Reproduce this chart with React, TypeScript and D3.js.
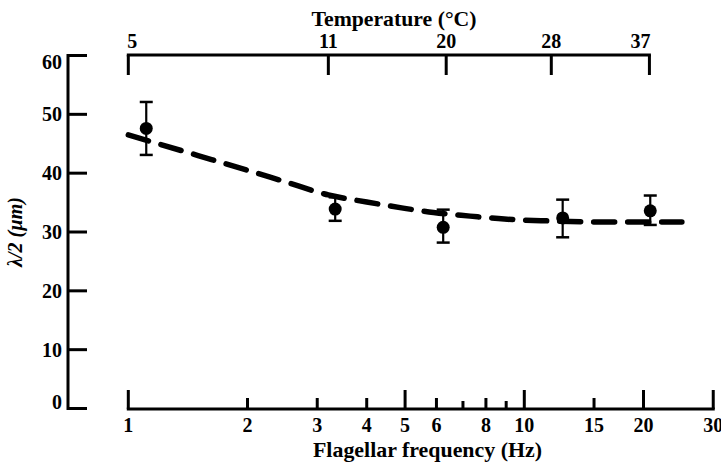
import React from "react";
import * as d3 from "d3";

const freqTicks = [1, 2, 3, 4, 5, 6, 7, 8, 9, 10, 15, 20, 30];
const freqTickLabels = ["1", "2", "3", "4", "5", "6", "", "8", "", "10", "15", "20", "30"];
const freqTickKind = ["L", "M", "M", "M", "L", "M", "S", "M", "S", "L", "M", "L", "L"];
const tempLabels = ["5", "11", "20", "28", "37"];
const tempAtFreq = [1.0, 3.2, 6.35, 11.7, 20.7];
const yTicks = [0, 10, 20, 30, 40, 50, 60];

const pointFreq = [1.11, 3.33, 6.24, 12.5, 20.8];
const pointMean = [47.6, 33.9, 30.8, 32.4, 33.6];
const pointUpper = [52.1, 35.9, 33.8, 35.5, 36.2];
const pointLower = [43.1, 31.9, 28.2, 29.1, 31.2];

const curveFreq = [1.0, 1.5, 2.0, 2.5, 3.2, 4.0, 4.9, 5.9, 7.3, 8.9, 11.3, 16, 25];
const curveVal = [46.5, 43.0, 40.5, 38.5, 36.3, 35.1, 34.1, 33.3, 32.7, 32.2, 31.9, 31.7, 31.7];

const FONT = "'Liberation Serif', 'Times New Roman', serif";

export default function App() {
  const x = d3.scaleLog().domain([1, 10]).range([128.3, 524.3]);
  const y = d3.scaleLinear().domain([0, 60]).range([408.5, 55.5]);
  const yAxisX = 68;
  const xAxisY = 409;
  const topAxisY = 55;

  const line = d3
    .line<number>()
    .x((d, i) => x(curveFreq[i]))
    .y((d) => y(d))
    .curve(d3.curveMonotoneX);

  const tickLen = (k: string) => (k === "L" ? 19 : k === "M" ? 11 : 8);

  return (
    <svg
      width={721}
      height={463}
      style={{ position: "absolute", left: 0, top: 0, background: "#fff" }}
      fontFamily={FONT}
      fontWeight="bold"
    >
      <rect width={721} height={463} fill="#fff" />
      {/* Top title */}
      <text x={394} y={26} fontSize={21} textAnchor="middle" textLength={165} lengthAdjust="spacingAndGlyphs">
        Temperature (°C)
      </text>
      {/* top axis */}
      <line x1={x(tempAtFreq[0])} x2={x(tempAtFreq[tempAtFreq.length - 1])} y1={topAxisY} y2={topAxisY} stroke="#000" strokeWidth={3} strokeLinecap="square" />
      {tempAtFreq.map((f, i) => (
        <g key={"t" + i}>
          <line x1={x(f)} x2={x(f)} y1={topAxisY} y2={topAxisY + 20} stroke="#000" strokeWidth={3} />
          <text
            x={i === 0 ? x(f) - 1 : i === tempAtFreq.length - 1 ? x(f) + 1 : x(f)}
            y={47.5}
            fontSize={20}
            textAnchor={i === 0 ? "start" : i === tempAtFreq.length - 1 ? "end" : "middle"}
          >
            {tempLabels[i]}
          </text>
        </g>
      ))}

      {/* Y axis */}
      <line x1={yAxisX} x2={yAxisX} y1={y(60)} y2={y(0)} stroke="#000" strokeWidth={3} strokeLinecap="square" />
      {yTicks.map((v, i) => (
        <g key={"y" + i}>
          <line x1={yAxisX} x2={yAxisX + 19} y1={y(v)} y2={y(v)} stroke="#000" strokeWidth={3} />
          <text
            x={62}
            y={y(v) + (v === 60 ? 13 : v === 0 ? 0 : 7)}
            fontSize={20}
            textAnchor="end"
          >
            {v}
          </text>
        </g>
      ))}
      <text
        transform={`translate(22,232) rotate(-90)`}
        fontSize={20}
        textAnchor="middle"
        fontStyle="italic"
      >
        λ/2 (µm)
      </text>

      {/* bottom axis */}
      <line x1={x(1)} x2={x(30)} y1={xAxisY} y2={xAxisY} stroke="#000" strokeWidth={3} strokeLinecap="square" />
      {freqTicks.map((f, i) => (
        <g key={"f" + i}>
          <line x1={x(f)} x2={x(f)} y1={xAxisY} y2={xAxisY - tickLen(freqTickKind[i])} stroke="#000" strokeWidth={3} />
          {freqTickLabels[i] && (
            <text x={x(f)} y={432} fontSize={20} textAnchor="middle">
              {freqTickLabels[i]}
            </text>
          )}
        </g>
      ))}
      <text x={427.5} y={457} fontSize={22} textAnchor="middle" textLength={229} lengthAdjust="spacingAndGlyphs">
        Flagellar frequency (Hz)
      </text>

      {/* dashed fit */}
      <path
        d={line(curveVal) || ""}
        fill="none"
        stroke="#000"
        strokeWidth={5.5}
        strokeDasharray="21 13"
        strokeLinecap="round"
      />

      {/* points with error bars */}
      {pointFreq.map((f, i) => (
        <g key={"p" + i}>
          <line x1={x(f)} x2={x(f)} y1={y(pointUpper[i])} y2={y(pointLower[i])} stroke="#000" strokeWidth={2.2} />
          <line x1={x(f) - 6.5} x2={x(f) + 6.5} y1={y(pointUpper[i])} y2={y(pointUpper[i])} stroke="#000" strokeWidth={2.5} />
          <line x1={x(f) - 6.5} x2={x(f) + 6.5} y1={y(pointLower[i])} y2={y(pointLower[i])} stroke="#000" strokeWidth={2.5} />
          <circle cx={x(f)} cy={y(pointMean[i])} r={6.5} fill="#000" />
        </g>
      ))}
    </svg>
  );
}
